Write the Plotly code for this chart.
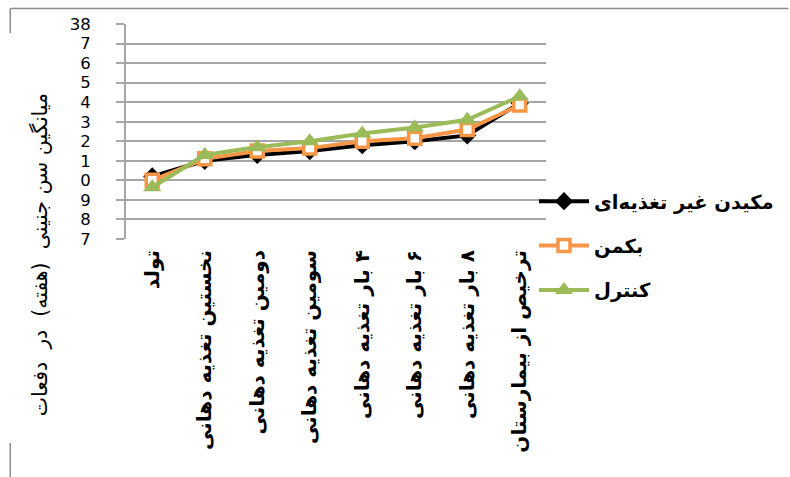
import plotly.graph_objects as go

# Measurement points along the feeding timeline
categories = [
    "تولد",
    "نخستین تغذیه دهانی",
    "دومین تغذیه دهانی",
    "سومین تغذیه دهانی",
    "۴ بار تغذیه دهانی",
    "۶ بار تغذیه دهانی",
    "۸ بار تغذیه دهانی",
    "ترخیص از بیمارستان",
]

# Mean gestational age (weeks) per group
nns_values = [30.2, 31.0, 31.3, 31.5, 31.8, 32.0, 32.3, 33.95]
beckman_values = [30.0, 31.1, 31.5, 31.65, 32.0, 32.15, 32.6, 33.85]
control_values = [29.65, 31.3, 31.7, 32.0, 32.4, 32.7, 33.1, 34.3]

series_names = ["مکیدن غیر تغذیه‌ای", "بکمن", "کنترل"]

y_tick_values = list(range(27, 39))
y_tick_labels = ["7", "8", "9", "0", "1", "2", "3", "4", "5", "6", "7", "38"]

y_title = "میانگین سن جنینی  (هفته)  در  دفعات"

FONT = "DejaVu Sans"
GRID = "#a6a6a6"
RLM = "\u200f"  # right-to-left mark keeps leading digits at the start of the label

fig = go.Figure()

labels = [RLM + c for c in categories]

fig.add_trace(go.Scatter(
    x=labels, y=nns_values, name=series_names[0], mode="lines+markers",
    line=dict(color="#000000", width=4),
    marker=dict(symbol="diamond", size=14, color="#000000"),
    legendgroup="a",
))
fig.add_trace(go.Scatter(
    x=labels, y=beckman_values, name=series_names[1], mode="lines+markers",
    line=dict(color="#F79646", width=4),
    marker=dict(symbol="square", size=12, color="#ffffff",
                line=dict(color="#F79646", width=3.5)),
    legendgroup="b",
))
fig.add_trace(go.Scatter(
    x=labels, y=control_values, name=series_names[2], mode="lines+markers",
    line=dict(color="#9BBB59", width=4),
    marker=dict(symbol="triangle-up", size=16, color="#9BBB59"),
    legendgroup="c",
))

# Frame fragments around the chart area
L, R, T, B = 126, 547, 24, 239
def px(xp):
    return (xp - L) / (R - L)
def py(yp):
    return (B - yp) / (B - T)

frame = [
    (10, 8.5, 790, 8.5),
    (10, 8.5, 10, 33),
    (10, 443, 10, 477),
]
shapes = [
    dict(type="line", xref="paper", yref="paper",
         x0=px(a), y0=py(b), x1=px(c), y1=py(d),
         line=dict(color="#8c8c8c", width=1.5))
    for a, b, c, d in frame
]

fig.update_layout(
    width=790, height=477,
    margin=dict(l=L, r=790 - R, t=T, b=477 - B),
    paper_bgcolor="white", plot_bgcolor="white",
    font=dict(family=FONT, color="#000000"),
    showlegend=True,
    legend=dict(
        x=px(534), y=py(182), xanchor="left", yanchor="top",
        font=dict(family=FONT, size=19.5, color="#000000", weight="bold"),
        traceorder="grouped", tracegroupgap=16,
        itemwidth=50, bgcolor="rgba(0,0,0,0)",
    ),
    shapes=shapes,
    annotations=[dict(
        text=y_title, xref="paper", yref="paper",
        x=px(40), y=py(255), xanchor="center", yanchor="middle",
        textangle=-90, showarrow=False,
        font=dict(family=FONT, size=20.5, color="#000000"),
    )],
)

fig.update_xaxes(
    type="category", range=[-0.5, 7.5],
    showgrid=False, showline=False, zeroline=False,
    ticks="", tickangle=-90,
    tickfont=dict(family=FONT, size=20, color="#000000", weight="bold"),
    ticklabelstandoff=6,
)
fig.update_yaxes(
    range=[27, 38], tickvals=y_tick_values, ticktext=y_tick_labels,
    showgrid=True, gridcolor=GRID, gridwidth=1.8,
    showline=True, linecolor=GRID, linewidth=1.8,
    zeroline=False,
    ticks="outside", ticklen=8, tickcolor=GRID, tickwidth=1.8,
    tickfont=dict(family=FONT, size=16.5, color="#000000"),
    ticklabelstandoff=22,
)

fig.write_html("out.html")
